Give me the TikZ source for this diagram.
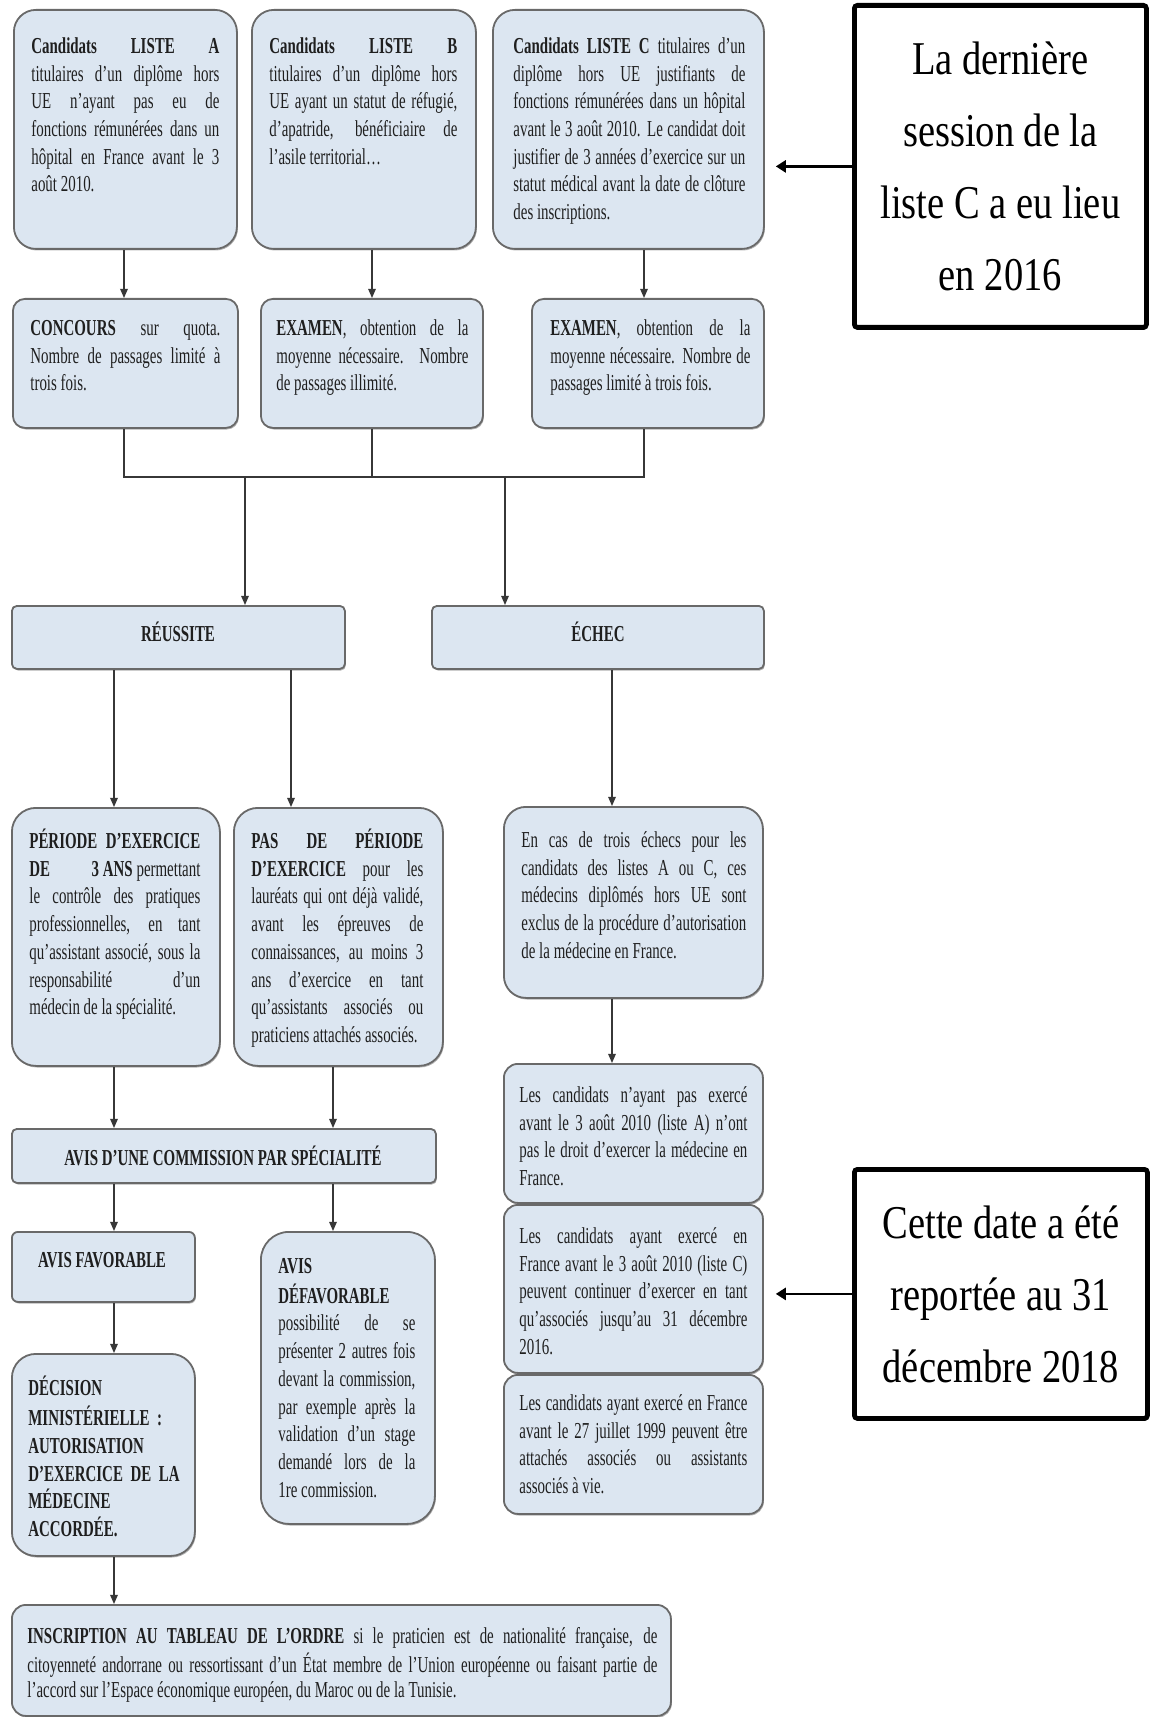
\documentclass[tikz,border=0pt]{standalone}
\usepackage{fontspec}
\setmainfont{Liberation Serif}[FakeStretch=0.655]
\newfontfamily\annfont{Liberation Serif}[FakeStretch=0.82]
\usetikzlibrary{arrows.meta,shadows}
\definecolor{boxfill}{RGB}{220,230,241}
\definecolor{boxdraw}{RGB}{105,105,105}
\definecolor{linecol}{RGB}{55,55,55}
\hyphenpenalty=10000
\exhyphenpenalty=10000
\tolerance=9999
\newcommand\mkbox[6]{\node[boxst, rounded corners=#6, anchor=north west, minimum width={#4*0.5pt}, minimum height={#5*0.5pt}] (#1) at (#2,#3) {};}
\newcommand\mktext[5]{\node[txt, anchor=north west, text width=#4] (#1) at (#2,#3-19.4) {\strut #5};}
\begin{document}
\begin{tikzpicture}[x=0.5pt,y=-0.5pt,
  boxst/.style={draw=boxdraw, fill=boxfill, line width=0.9pt, inner sep=0pt,
    drop shadow={shadow xshift=0.5pt, shadow yshift=-0.8pt, fill=black, opacity=0.3}},
  txt/.style={inner sep=0pt, align=justify, text=black!88, font=\fontsize{11.4pt}{13.85pt}\selectfont},
  btxt/.style={inner sep=0pt, align=center, text=black!88, font=\fontsize{11.4pt}{13.85pt}\selectfont\bfseries},
  ann/.style={draw=black, line width=2.4pt, fill=white, rounded corners=1.5pt, inner sep=0pt,
    align=center, anchor=north west, font=\annfont\fontsize{23.5pt}{36pt}\selectfont,
    drop shadow={shadow xshift=0.3pt, shadow yshift=-1.2pt, fill=black, opacity=0.8}},
  ln/.style={draw=linecol, line width=0.7pt},
  arr/.style={draw=linecol, line width=0.7pt, -{Triangle[width=3.8pt,length=4.6pt]}},
  annarr/.style={draw=black, line width=1.4pt, -{Triangle[width=6pt,length=5pt]}}]
\useasboundingbox (0,0) rectangle (1151,1717);
\fill[white] (0,0) rectangle (1151,1717);

% ---- boxes
\mkbox{A}{13}{9}{223}{239}{11pt}
\mkbox{B}{251}{9}{224}{239}{11pt}
\mkbox{C}{492}{9}{271}{239}{11pt}
\mkbox{conc}{12}{298}{225}{129}{6pt}
\mkbox{exB}{260}{298}{222}{129}{6pt}
\mkbox{exC}{531}{298}{232}{129}{6pt}
\mkbox{reus}{11}{605}{333}{63}{2.5pt}
\mkbox{echec}{431}{605}{332}{63}{2.5pt}
\mkbox{per}{11}{807}{208}{258}{12pt}
\mkbox{pas}{233}{807}{209}{258}{12pt}
\mkbox{encas}{503}{806}{259}{191}{11pt}
\mkbox{b1}{503}{1063}{259}{139}{7pt}
\mkbox{b2}{503}{1204}{259}{168}{7pt}
\mkbox{b3}{503}{1374}{259}{139}{7pt}
\mkbox{comm}{11}{1128}{424}{54}{2.5pt}
\mkbox{fav}{11}{1231}{183}{70}{3pt}
\mkbox{def}{260}{1231}{174}{292}{14pt}
\mkbox{dec}{11}{1353}{183}{202}{12pt}
\mkbox{insc}{11}{1604}{659}{111}{7pt}

\node[ann, minimum width=146pt, minimum height=161pt] (D) at (852,3)
  {La dernière\\session de la\\liste C a eu lieu\\en 2016};
\node[ann, minimum width=146.5pt, minimum height=124.5pt] (E) at (852,1167)
  {Cette date a été\\reportée au 31\\décembre 2018};

% ---- texts
\mktext{At}{31}{53}{94pt}{\textbf{Candidats LISTE A}\linebreak titulaires d'un diplôme hors\linebreak UE n'ayant pas eu de\linebreak fonctions rémunérées dans un\linebreak hôpital en France avant le 3\linebreak août 2010.}
\mktext{Bt}{269}{53}{94pt}{\textbf{Candidats LISTE B}\linebreak titulaires d'un diplôme hors\linebreak UE ayant un statut de réfugié,\linebreak d'apatride, bénéficiaire de\linebreak l'asile territorial…}
\mktext{Ct}{513}{53}{116pt}{\textbf{Candidats LISTE C} titulaires d'un\linebreak diplôme hors UE justifiants de\linebreak fonctions rémunérées dans un hôpital\linebreak avant le 3 août 2010. Le candidat doit\linebreak justifier de 3 années d'exercice sur un\linebreak statut médical avant la date de clôture\linebreak des inscriptions.}
\mktext{conct}{30}{335}{95pt}{\textbf{CONCOURS} sur quota.\linebreak Nombre de passages limité à\linebreak trois fois.}
\mktext{exBt}{276}{335}{96pt}{\textbf{EXAMEN}, obtention de la\linebreak moyenne nécessaire. Nombre\linebreak de passages illimité.}
\mktext{exCt}{550}{335}{100pt}{\textbf{EXAMEN}, obtention de la\linebreak moyenne nécessaire. Nombre de\linebreak passages limité à trois fois.}
\node[btxt] (reust) at (178,632) {RÉUSSITE};
\node[btxt] (echect) at (598,632) {ÉCHEC};
\mktext{pert}{29}{848}{85.5pt}{\textbf{PÉRIODE D'EXERCICE}\linebreak \textbf{DE}\hfill\textbf{3 ANS} permettant\linebreak le contrôle des pratiques\linebreak professionnelles, en tant\linebreak qu'assistant associé, sous la\linebreak responsabilité d'un\linebreak médecin de la spécialité.}
\mktext{past}{251}{848}{86pt}{\textbf{PAS DE PÉRIODE}\linebreak \textbf{D'EXERCICE} pour les\linebreak lauréats qui ont déjà validé,\linebreak avant les épreuves de\linebreak connaissances, au moins 3\linebreak ans d'exercice en tant\linebreak qu'assistants associés ou\linebreak praticiens attachés associés.}
\mktext{encast}{521}{847}{112.5pt}{En cas de trois échecs pour les\linebreak candidats des listes A ou C, ces\linebreak médecins diplômés hors UE sont\linebreak exclus de la procédure d'autorisation\linebreak de la médecine en France.}
\mktext{b1t}{519}{1102}{114pt}{Les candidats n'ayant pas exercé\linebreak avant le 3 août 2010 (liste A) n'ont\linebreak pas le droit d'exercer la médecine en\linebreak France.}
\mktext{b2t}{519}{1243}{114pt}{Les candidats ayant exercé en\linebreak France avant le 3 août 2010 (liste C)\linebreak peuvent continuer d'exercer en tant\linebreak qu'associés jusqu'au 31 décembre\linebreak 2016.}
\mktext{b3t}{519}{1410}{114pt}{Les candidats ayant exercé en France\linebreak avant le 27 juillet 1999 peuvent être\linebreak attachés associés ou assistants\linebreak associés à vie.}
\node[btxt] (commt) at (223,1156) {AVIS D'UNE COMMISSION PAR SPÉCIALITÉ};
\node[btxt] (favt) at (102,1260) {AVIS FAVORABLE};
\mktext{deft}{278}{1273}{68.5pt}{\textbf{AVIS}\\\textbf{DÉFAVORABLE}\\possibilité de se\linebreak présenter 2 autres fois\linebreak devant la commission,\linebreak par exemple après la\linebreak validation d'un stage\linebreak demandé lors de la\linebreak 1re commission.}
\node[txt, align=left, anchor=north west, text width=85pt, font=\fontsize{11.4pt}{13.9pt}\selectfont\bfseries] (dect) at (28,1395-19.4)
  {\strut DÉCISION\\MINISTÉRIELLE :\\AUTORISATION\\D'EXERCICE DE LA\\MÉDECINE\\ACCORDÉE.};
\node[txt, anchor=north west, text width=315pt, font=\fontsize{11.4pt}{12.5pt}\selectfont] (insct) at (27,1643-17.5)
  {\strut\textbf{INSCRIPTION AU TABLEAU DE L'ORDRE} si le praticien est de nationalité française, de\linebreak citoyenneté andorrane ou ressortissant d'un État membre de l'Union européenne ou faisant partie de\linebreak l'accord sur l'Espace économique européen, du Maroc ou de la Tunisie.};

% ---- connectors
\coordinate (bar) at (0,477);
\coordinate (xr) at (245,477);
\coordinate (xe) at (505,477);
\coordinate (xa) at (124,0);
\coordinate (xb) at (372,0);
\coordinate (xc) at (644,0);
\coordinate (xm) at (114,0);
\coordinate (xp) at (291,0);
\coordinate (xq) at (333,0);
\coordinate (xf) at (612,0);

\draw[arr] (A.south -| xa) -- (conc.north -| xa);
\draw[arr] (B.south -| xb) -- (exB.north -| xb);
\draw[arr] (C.south -| xc) -- (exC.north -| xc);
\draw[ln] (conc.south -| xa) -- (bar -| xa) -- (bar -| xc) -- (exC.south -| xc);
\draw[ln] (exB.south -| xb) -- (bar -| xb);
\draw[arr] (xr) -- (reus.north -| xr);
\draw[arr] (xe) -- (echec.north -| xe);
\draw[arr] (reus.south -| xm) -- (per.north -| xm);
\draw[arr] (reus.south -| xp) -- (pas.north -| xp);
\draw[arr] (echec.south -| xf) -- (encas.north -| xf);
\draw[arr] (encas.south -| xf) -- (b1.north -| xf);
\draw[arr] (per.south -| xm) -- (comm.north -| xm);
\draw[arr] (pas.south -| xq) -- (comm.north -| xq);
\draw[arr] (comm.south -| xm) -- (fav.north -| xm);
\draw[arr] (comm.south -| xq) -- (def.north -| xq);
\draw[arr] (fav.south -| xm) -- (dec.north -| xm);
\draw[arr] (dec.south -| xm) -- (insc.north -| xm);
\draw[annarr, shorten >=5.5pt] (D.west) -- (D.west -| C.east);
\draw[annarr, shorten >=6pt] (E.west) -- (E.west -| b2.east);
\end{tikzpicture}
\end{document}
